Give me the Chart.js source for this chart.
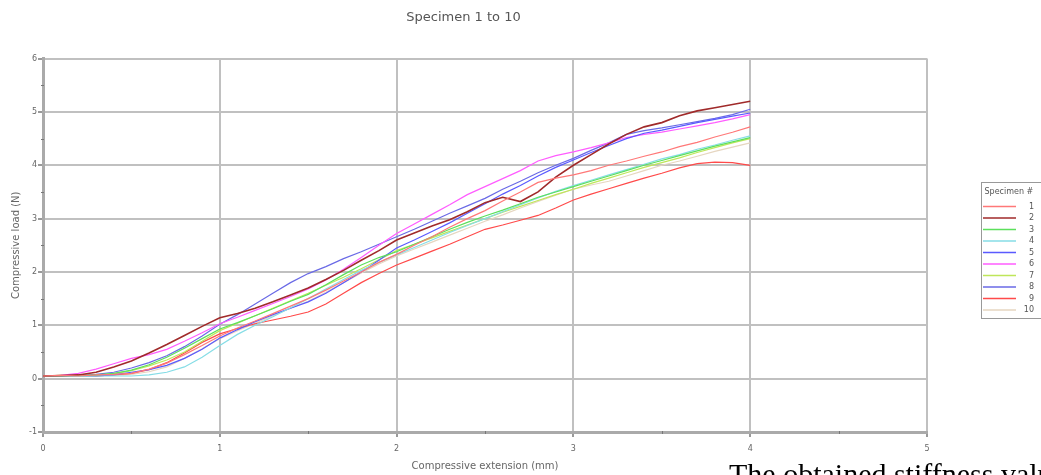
<!DOCTYPE html>
<html>
<head>
<meta charset="utf-8">
<script src="https://cdn.jsdelivr.net/npm/chart.js@4.4.1/dist/chart.umd.min.js"></script>
<style>
    html, body { margin: 0; padding: 0; background: #fff; overflow: hidden; }
    #wrap { position: relative; width: 1041px; height: 475px; }
    #note {
        position: absolute; left: 729px; top: 457px; white-space: nowrap;
        font-family: "Liberation Serif", serif; font-size: 30px; color: #000;
    }
</style>
</head>
<body>
<div id="wrap">
    <canvas id="mycanvas" width="1041" height="475"></canvas>
    <div id="note">The obtained stiffness values</div>
</div>
<script>
// extension (mm), one reading every 0.1 mm
const extension = [0, 0.1, 0.2, 0.3, 0.4, 0.5, 0.6, 0.7, 0.8, 0.9, 1.0, 1.1, 1.2, 1.3, 1.4, 1.5, 1.6, 1.7, 1.8, 1.9, 2.0,
    2.1, 2.2, 2.3, 2.4, 2.5, 2.6, 2.7, 2.8, 2.9, 3.0, 3.1, 3.2, 3.3, 3.4, 3.5, 3.6, 3.7, 3.8, 3.9, 4.0];

// compressive load (N) per specimen
const spec1 = [0.05, 0.06, 0.05, 0.07, 0.08, 0.10, 0.18, 0.29, 0.45, 0.62, 0.80, 0.95, 1.08, 1.22, 1.36, 1.50, 1.66, 1.83, 2.00, 2.18, 2.33,
    2.50, 2.66, 2.84, 3.00, 3.15, 3.33, 3.50, 3.68, 3.76, 3.82, 3.90, 4.00, 4.08, 4.17, 4.25, 4.35, 4.43, 4.53, 4.62, 4.72];
const spec2 = [0.05, 0.06, 0.07, 0.12, 0.22, 0.33, 0.48, 0.64, 0.81, 0.98, 1.14, 1.22, 1.32, 1.44, 1.57, 1.70, 1.86, 2.03, 2.22, 2.40, 2.60,
    2.73, 2.86, 2.98, 3.13, 3.30, 3.40, 3.32, 3.50, 3.78, 4.00, 4.20, 4.40, 4.58, 4.72, 4.80, 4.93, 5.02, 5.08, 5.14, 5.20];
const spec3 = [0.05, 0.05, 0.06, 0.07, 0.10, 0.16, 0.26, 0.40, 0.57, 0.75, 0.93, 1.05, 1.18, 1.31, 1.45, 1.58, 1.76, 1.95, 2.13, 2.27, 2.38,
    2.52, 2.66, 2.80, 2.93, 3.05, 3.16, 3.28, 3.40, 3.50, 3.60, 3.70, 3.80, 3.90, 4.00, 4.09, 4.18, 4.27, 4.36, 4.44, 4.52];
const spec4 = [0.05, 0.05, 0.04, 0.05, 0.05, 0.05, 0.07, 0.12, 0.22, 0.40, 0.62, 0.83, 1.00, 1.16, 1.33, 1.50, 1.68, 1.86, 2.03, 2.18, 2.32,
    2.46, 2.60, 2.74, 2.87, 3.00, 3.13, 3.26, 3.39, 3.51, 3.62, 3.72, 3.82, 3.92, 4.02, 4.12, 4.20, 4.30, 4.38, 4.47, 4.55];
const spec5 = [0.05, 0.04, 0.05, 0.05, 0.07, 0.12, 0.17, 0.25, 0.38, 0.55, 0.76, 0.92, 1.07, 1.20, 1.32, 1.44, 1.60, 1.80, 2.00, 2.22, 2.45,
    2.60, 2.76, 2.92, 3.10, 3.28, 3.46, 3.62, 3.80, 3.96, 4.10, 4.24, 4.37, 4.50, 4.60, 4.66, 4.73, 4.80, 4.86, 4.92, 4.98];
const spec6 = [0.05, 0.06, 0.10, 0.18, 0.28, 0.38, 0.45, 0.55, 0.70, 0.86, 1.03, 1.15, 1.28, 1.41, 1.54, 1.68, 1.85, 2.05, 2.27, 2.50, 2.72,
    2.90, 3.08, 3.26, 3.45, 3.60, 3.75, 3.90, 4.08, 4.18, 4.25, 4.33, 4.42, 4.52, 4.58, 4.62, 4.68, 4.74, 4.80, 4.87, 4.95];
const spec7 = [0.05, 0.06, 0.05, 0.06, 0.09, 0.15, 0.24, 0.35, 0.50, 0.70, 0.90, 1.04, 1.18, 1.32, 1.46, 1.60, 1.75, 1.90, 2.06, 2.23, 2.40,
    2.52, 2.64, 2.76, 2.88, 3.00, 3.12, 3.23, 3.34, 3.45, 3.55, 3.66, 3.76, 3.86, 3.96, 4.05, 4.14, 4.24, 4.33, 4.42, 4.50];
const spec8 = [0.05, 0.05, 0.06, 0.08, 0.12, 0.20, 0.30, 0.43, 0.60, 0.80, 1.02, 1.20, 1.40, 1.60, 1.80, 1.97, 2.10, 2.25, 2.38, 2.52, 2.66,
    2.80, 2.95, 3.10, 3.24, 3.38, 3.55, 3.70, 3.86, 4.00, 4.13, 4.28, 4.42, 4.58, 4.65, 4.70, 4.76, 4.82, 4.88, 4.95, 5.05];
const spec9 = [0.05, 0.05, 0.06, 0.05, 0.07, 0.10, 0.17, 0.30, 0.48, 0.68, 0.84, 0.94, 1.03, 1.10, 1.17, 1.25, 1.40, 1.60, 1.80, 1.97, 2.13,
    2.26, 2.39, 2.52, 2.66, 2.80, 2.88, 2.97, 3.06, 3.20, 3.35, 3.46, 3.56, 3.66, 3.76, 3.85, 3.95, 4.03, 4.06, 4.05, 4.00];
const spec10 = [0.05, 0.05, 0.05, 0.05, 0.06, 0.08, 0.13, 0.22, 0.38, 0.56, 0.75, 0.90, 1.04, 1.18, 1.32, 1.45, 1.62, 1.80, 1.98, 2.15, 2.30,
    2.43, 2.56, 2.69, 2.82, 2.95, 3.07, 3.20, 3.32, 3.44, 3.55, 3.63, 3.70, 3.80, 3.90, 4.00, 4.08, 4.17, 4.26, 4.34, 4.42];

const specLabels = ['1', '2', '3', '4', '5', '6', '7', '8', '9', '10'];
const specValues = [spec1, spec2, spec3, spec4, spec5, spec6, spec7, spec8, spec9, spec10];
const specColors = ['#ff7878', '#a02a2a', '#5ce05c', '#86dde6', '#5a5aff', '#ff5cff', '#bfe65a', '#6a6ae6', '#ff4a4a', '#e6d6c0'];

const xTicks = [0, 1, 2, 3, 4, 5];
const yTicks = [-1, 0, 1, 2, 3, 4, 5, 6];

const isMajor = (v) => Math.abs(v - Math.round(v)) < 1e-6;

// legend box on the right + little minor ticks on the axes
const extras = {
    id: 'extras',
    afterDraw(chart) {
        const ctx = chart.ctx;
        const xs = chart.scales.x, ys = chart.scales.y;
        const area = chart.chartArea;
        ctx.save();
        ctx.strokeStyle = '#777';
        ctx.lineWidth = 1;
        for (let v = 0.5; v < 5; v += 1) {
            const px = Math.round(xs.getPixelForValue(v)) + 0.5;
            ctx.beginPath(); ctx.moveTo(px, area.bottom - 1); ctx.lineTo(px, area.bottom + 2); ctx.stroke();
        }
        for (let v = -0.5; v < 6; v += 1) {
            const py = Math.round(ys.getPixelForValue(v)) + 0.5;
            ctx.beginPath(); ctx.moveTo(area.left - 2, py); ctx.lineTo(area.left + 1, py); ctx.stroke();
        }

        // legend
        const lx = 981.5, ly = 182.5;
        ctx.strokeStyle = '#999';
        ctx.strokeRect(lx, ly, 80, 136);
        ctx.fillStyle = '#555';
        ctx.font = '8px "DejaVu Sans"';
        ctx.textBaseline = 'middle';
        ctx.textAlign = 'left';
        ctx.fillText('Specimen #', lx + 3, ly + 9);
        ctx.lineWidth = 1.5;
        specLabels.forEach((lab, i) => {
            const y = 206.5 + i * 11.5;
            ctx.strokeStyle = specColors[i];
            ctx.beginPath(); ctx.moveTo(983, y); ctx.lineTo(1016, y); ctx.stroke();
            ctx.textAlign = 'right';
            ctx.fillText(lab, 1034, y);
        });
        ctx.restore();
    }
};

const ChartsDisplay = () => {
    const datasets = specValues.map((vals, i) => ({
        label: specLabels[i],
        data: vals.map((v, j) => ({ x: extension[j], y: v })),
        borderColor: specColors[i],
        backgroundColor: specColors[i],
        borderWidth: i === 1 ? 1.6 : 1.2,
        pointRadius: 0,
        tension: 0,
        fill: false,
    }));

    const gridStyle = {
        color: (c) => (isMajor(c.tick.value) ? '#c0c0c0' : 'rgba(0,0,0,0)'),
        lineWidth: 2,
        tickColor: (c) => (isMajor(c.tick.value) ? '#999' : 'rgba(0,0,0,0)'),
        tickLength: 5,
        drawTicks: true,
    };

    const ctx = document.getElementById("mycanvas").getContext("2d");
    const myChart = new Chart(ctx, {
        type: 'line',
        data: { datasets: datasets },
        plugins: [extras],
        options: {
            responsive: false,
            animation: { duration: 0 },
            layout: { padding: { left: 0, right: 114, top: 0, bottom: 0 } },
            plugins: {
                legend: { display: false },
                tooltip: { enabled: false },
                title: {
                    display: true,
                    text: 'Specimen 1 to 10',
                    color: '#555',
                    font: { family: 'DejaVu Sans', size: 13, weight: 'normal' },
                    padding: { top: 10, bottom: 33 },
                },
            },
            scales: {
                x: {
                    type: 'linear',
                    min: 0, max: 5,
                    afterFit: (s) => { s.height = 43; },
                    afterBuildTicks: (s) => {
                        s.ticks = [];
                        for (let v = 0; v <= 5; v += 0.5) s.ticks.push({ value: v });
                    },
                    ticks: {
                        color: '#666',
                        font: { family: 'DejaVu Sans', size: 8 },
                        padding: 7,
                        maxRotation: 0,
                        autoSkip: false,
                        callback: (v) => (xTicks.includes(v) ? String(v) : ''),
                    },
                    grid: gridStyle,
                    border: { display: true, color: '#aaa', width: 3 },
                    title: {
                        display: true,
                        text: 'Compressive extension (mm)',
                        color: '#666',
                        font: { family: 'DejaVu Sans', size: 10 },
                        padding: { top: 0, bottom: 3 },
                    },
                },
                y: {
                    type: 'linear',
                    min: -1, max: 6,
                    afterFit: (s) => { s.width = 43; },
                    afterBuildTicks: (s) => {
                        s.ticks = [];
                        for (let v = -1; v <= 6; v += 0.5) s.ticks.push({ value: v });
                    },
                    ticks: {
                        color: '#666',
                        font: { family: 'DejaVu Sans', size: 8 },
                        padding: 1,
                        autoSkip: false,
                        callback: (v) => (yTicks.includes(v) ? String(v) : ''),
                    },
                    grid: gridStyle,
                    border: { display: true, color: '#aaa', width: 3 },
                    title: {
                        display: true,
                        text: 'Compressive load (N)',
                        color: '#666',
                        font: { family: 'DejaVu Sans', size: 10 },
                        padding: { top: 10, bottom: 4 },
                    },
                },
            },
        },
    });
    return myChart;
};

ChartsDisplay();
</script>
</body>
</html>
